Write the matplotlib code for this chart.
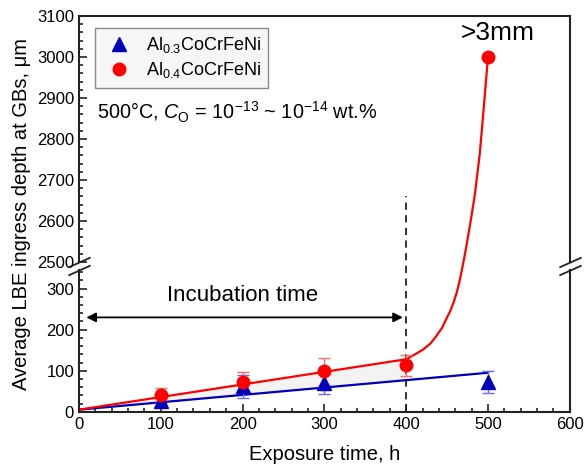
import numpy as np
import matplotlib.pyplot as plt

plt.rcParams['font.family'] = 'Liberation Sans'
plt.rcParams['mathtext.fontset'] = 'custom'
plt.rcParams['mathtext.rm'] = 'Liberation Sans'
plt.rcParams['mathtext.it'] = 'Liberation Sans:italic'

# measured points
al03_hours = [100, 200, 300, 500]
al03_depth = [25, 62, 70, 72]
al03_err = [8, 28, 26, 27]

al04_hours = [100, 200, 300, 400, 500]
al04_depth = [40, 72, 99, 113, 3000]
al04_err = [18, 25, 33, 26, 0]

# fitted lines
al03_fit_x = [0, 500]
al03_fit_y = [5, 95]
al04_fit_x = [0, 400]
al04_fit_y = [5, 128]
shade_blue_y = [5, 77]
al04_curve_x = [400, 410, 421, 430, 437, 444, 449, 454, 458, 462, 466, 468,
                470, 472, 478, 484, 490, 495, 500]
al04_curve_y = [128, 139, 152, 167, 185, 205, 226, 246, 267, 292, 325, 345,
                2500, 2521, 2590, 2665, 2765, 2880, 3000]

y_major = [0, 100, 200, 300, 2500, 2600, 2700, 2800, 2900, 3000, 3100]
y_minor = [20, 40, 60, 80, 120, 140, 160, 180, 220, 240, 260, 280, 320, 340] + \
          [v for v in range(2520, 3100, 20) if v % 100]

# broken axis: 0-345 below, 2500-3100 above, small gap between
LOW_TOP = 345
HIGH_BOT = 2500
GAP = 20


def fwd(y):
  y = np.asarray(y, dtype=float)
  mid = LOW_TOP + (y - LOW_TOP) * GAP / (HIGH_BOT - LOW_TOP)
  return np.where(y <= LOW_TOP, y, np.where(y >= HIGH_BOT, y - HIGH_BOT + LOW_TOP + GAP, mid))


def inv(u):
  u = np.asarray(u, dtype=float)
  mid = LOW_TOP + (u - LOW_TOP) * (HIGH_BOT - LOW_TOP) / GAP
  return np.where(u <= LOW_TOP, u, np.where(u >= LOW_TOP + GAP, u - LOW_TOP - GAP + HIGH_BOT, mid))


fig = plt.figure(figsize=(5.85, 4.70), dpi=100)
ax = fig.add_axes([0.135, 0.124, 0.839, 0.842])
ax.set_yscale('function', functions=(fwd, inv))
ax.set_xlim(0, 600)
ax.set_ylim(0, 3100)

blue = '#0000bb'
red = '#ff0000'

ax.fill_between(al04_fit_x, al04_fit_y, shade_blue_y, color='#f3f3f3', lw=0, zorder=1)
ax.plot(al03_fit_x, al03_fit_y, color=blue, lw=1.6, zorder=3)
ax.plot(al04_fit_x, al04_fit_y, color=red, lw=1.6, zorder=3)
ax.plot(al04_curve_x, al04_curve_y, color=red, lw=1.6, zorder=3)

ax.plot([400, 400], [0, 2660], color='#222222', lw=1.3, ls=(0, (4, 3)), zorder=2)

ax.errorbar(al03_hours, al03_depth, yerr=al03_err, fmt='none', ecolor='#6a6aff',
            elinewidth=1, capsize=4, capthick=1, zorder=4)
ax.errorbar(al04_hours[:-1], al04_depth[:-1], yerr=al04_err[:-1], fmt='none',
            ecolor='#ff6a6a', elinewidth=1, capsize=4, capthick=1, zorder=4)
ax.plot(al03_hours, al03_depth, '^', color=blue, ms=10, ls='none', zorder=5,
        label=r'Al$_{0.3}$CoCrFeNi')
ax.plot(al04_hours, al04_depth, 'o', color=red, ms=9, ls='none', zorder=6,
        label=r'Al$_{0.4}$CoCrFeNi')

leg = ax.legend(loc='upper left', bbox_to_anchor=(0.033, 0.97), borderaxespad=0,
                fontsize=13, fancybox=False, framealpha=1, handletextpad=0.6,
                borderpad=0.4, handlelength=1.8, labelspacing=0.3)
leg.get_frame().set_edgecolor('#8a8a8a')
leg.get_frame().set_facecolor('#f6f6f6')
leg.get_frame().set_linewidth(1)

ax.annotate('', xy=(396, 230), xytext=(9, 230),
            arrowprops=dict(arrowstyle='<|-|>', color='black', lw=1.3,
                            mutation_scale=14, shrinkA=0, shrinkB=0))
ax.text(200, 283, 'Incubation time', ha='center', va='center', fontsize=16)
ax.text(512, 3058, '>3mm', ha='center', va='center', fontsize=19)
ax.text(22, 2866, r'500°C, $C_\mathrm{O}$ = 10$^{-13}$ ~ 10$^{-14}$ wt.%',
        ha='left', va='center', fontsize=14.3)

ax.set_xticks(range(0, 601, 100))
ax.set_xticks(range(0, 601, 20), minor=True)
ax.set_yticks(y_major)
ax.set_yticks(y_minor, minor=True)
ax.tick_params(which='both', direction='in', top=False, right=False,
               labelsize=12, width=1.2, color='#222222')
ax.tick_params(which='major', length=6)
ax.tick_params(which='minor', length=3)

ax.set_xlabel('Exposure time, h', fontsize=14.5, labelpad=10)
ax.set_ylabel('Average LBE ingress depth at GBs, μm', fontsize=14.5, labelpad=4)

# spines with break marks
for side in ['left', 'right']:
  ax.spines[side].set_visible(False)
for side in ['top', 'bottom']:
  ax.spines[side].set_linewidth(1.5)
  ax.spines[side].set_color('#222222')
ytr = ax.get_yaxis_transform()
for xpos in [0, 1]:
  ax.plot([xpos, xpos], [0, LOW_TOP], transform=ytr, color='#222222', lw=1.5,
          clip_on=False, zorder=7)
  ax.plot([xpos, xpos], [HIGH_BOT, 3100], transform=ytr, color='#222222', lw=1.5,
          clip_on=False, zorder=7)
  ax.plot([xpos, xpos], [LOW_TOP, HIGH_BOT], transform=ytr, ls='none',
          marker=[(-1, -0.45), (1, 0.45)], ms=16, mew=1.3, color='#222222',
          clip_on=False, zorder=7)

fig.savefig('out.png', dpi=100)
